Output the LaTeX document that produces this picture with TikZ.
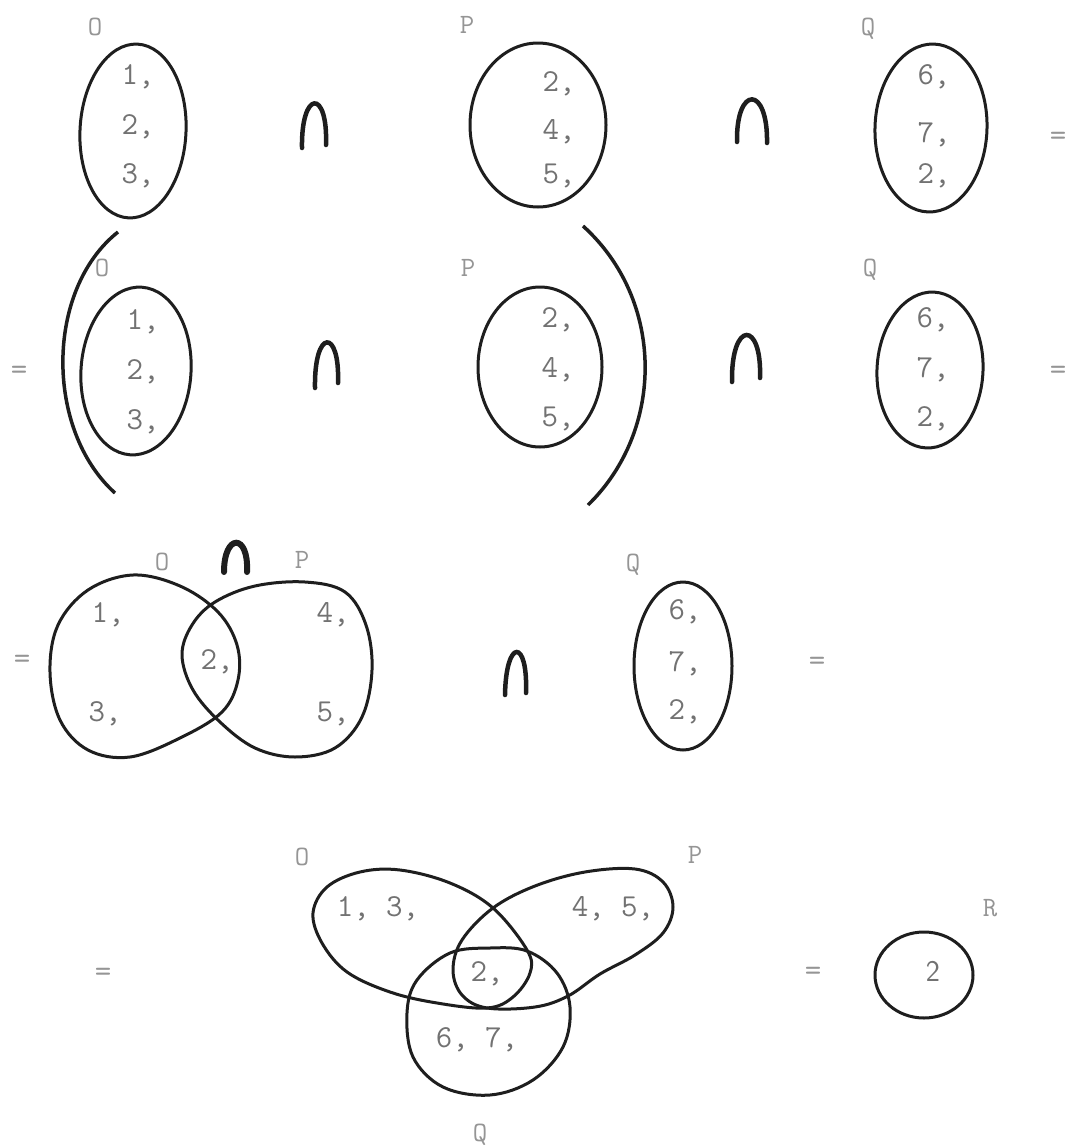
\documentclass[tikz,border=0pt]{standalone}
\usepackage{fontspec}
\definecolor{ink}{HTML}{1E1E1E}
\definecolor{typed}{HTML}{727272}
\definecolor{lab}{HTML}{959595}
\tikzset{
  curve/.style={draw=ink, line width=3pt, line join=round},
  capsym/.style={draw=ink, line width=4.5pt, line cap=round},
  num/.style={text=typed, font=\fontsize{32}{36}\selectfont\ttfamily, inner sep=0pt, text height=19.6pt, text depth=0pt, anchor=center},
  setlab/.style={text=lab, font=\fontsize{28}{32}\selectfont\ttfamily, inner sep=0pt, text height=17pt, text depth=0pt, anchor=center},
  eqsign/.style={text=lab, font=\fontsize{32}{36}\selectfont\ttfamily, inner sep=0pt, anchor=base},
}
\begin{document}
\begin{tikzpicture}[x=1pt,y=-1pt]
\useasboundingbox (0,0) rectangle (1089,1146);
% ---------------- Row 1 ----------------
\node[setlab] (lO1) at (95,27) {O};
\node[setlab] (lP1) at (467,25) {P};
\node[setlab] (lQ1) at (868,27) {Q};
\draw[curve, rotate around={-3:(133,131)}] (133,131) ellipse [x radius=53, y radius=87];
\draw[curve] (538,125) ellipse [x radius=68, y radius=82];
\draw[curve, rotate around={-2:(931,128)}] (931,128) ellipse [x radius=56, y radius=84];
\node[num] (a1) at (138,75) {1,};
\node[num] (a2) at (138,125) {2,};
\node[num] (a3) at (138,174) {3,};
\node[num] (b1) at (559,82) {2,};
\node[num] (b2) at (559,130) {4,};
\node[num] (b3) at (559,174) {5,};
\node[num] (c1) at (934,75) {6,};
\node[num] (c2) at (934,133) {7,};
\node[num] (c3) at (934,174) {2,};
\draw[capsym] (302,148) .. controls (301,90) and (328,88) .. (326,145);
\draw[capsym] (737,142) .. controls (736,85) and (768,85) .. (767,143);
\node[eqsign] (e1) at (1058,145) {=};
% ---------------- Row 2 ----------------
\node[eqsign] (e2) at (19,379) {=};
\draw[curve, line width=3.5pt] (118,232) .. controls (45,290) and (45,430) .. (115,493);
\draw[curve, line width=3.5pt] (583,226) .. controls (665,300) and (665,430) .. (588,505);
\node[setlab] (lO2) at (102,268) {O};
\node[setlab] (lP2) at (468,268) {P};
\node[setlab] (lQ2) at (870,268) {Q};
\draw[curve, rotate around={-4:(136,371)}] (136,371) ellipse [x radius=55, y radius=84];
\draw[curve] (540,367) ellipse [x radius=62, y radius=80];
\draw[curve, rotate around={-3:(930,370)}] (930,370) ellipse [x radius=53, y radius=78];
\node[num] (d1) at (143,320) {1,};
\node[num] (d2) at (143,370) {2,};
\node[num] (d3) at (143,420) {3,};
\node[num] (f1) at (558,318) {2,};
\node[num] (f2) at (558,368) {4,};
\node[num] (f3) at (558,417) {5,};
\node[num] (g1) at (933,318) {6,};
\node[num] (g2) at (933,368) {7,};
\node[num] (g3) at (933,417) {2,};
\draw[capsym] (315,388) .. controls (314,328) and (340,328) .. (338,383);
\draw[capsym] (732,382) .. controls (731,320) and (762,320) .. (760,378);
\node[eqsign] (e3) at (1058,379) {=};
% ---------------- Row 3 ----------------
\node[eqsign] (e4) at (22,668) {=};
\node[setlab] (lO3) at (162,562) {O};
\node[setlab] (lP3) at (302,560) {P};
\draw[capsym, line width=6pt] (224,572) .. controls (224,533) and (249,533) .. (247,572);
\draw[curve] plot[smooth cycle, tension=0.6] coordinates {(133,575) (180,586) (218,612) (237,645) (238,680) (222,712) (180,738) (130,757) (88,750) (60,720) (50,672) (58,625) (88,590)};
\draw[curve] plot[smooth cycle, tension=0.6] coordinates {(215,602) (255,586) (305,582) (345,592) (366,625) (372,670) (362,717) (335,748) (295,757) (255,748) (220,722) (193,690) (182,655) (192,625)};
\node[num] (h1) at (108,613) {1,};
\node[num] (h2) at (217,660) {2,};
\node[num] (h3) at (105,712) {3,};
\node[num] (h4) at (333,613) {4,};
\node[num] (h5) at (333,712) {5,};
\draw[capsym] (505,695) .. controls (506,638) and (528,638) .. (526,693);
\node[setlab] (lQ3) at (633,563) {Q};
\draw[curve] (683,666) ellipse [x radius=49, y radius=84];
\node[num] (k1) at (685,610) {6,};
\node[num] (k2) at (685,662) {7,};
\node[num] (k3) at (685,710) {2,};
\node[eqsign] (e5) at (817,670) {=};
% ---------------- Row 4 ----------------
\node[eqsign] (e6) at (103,981) {=};
\node[setlab] (lO4) at (302,857) {O};
\node[setlab] (lP4) at (695,855) {P};
\node[setlab] (lQ4) at (480,1133) {Q};
\draw[curve] plot[smooth cycle, tension=0.6] coordinates {(313,913) (327,887) (360,872) (400,870) (450,883) (493,908) (527,950) (530,973) (513,997) (487,1008) (437,1003) (390,992) (347,972) (322,943)};
\draw[curve] plot[smooth cycle, tension=0.6] coordinates {(487,1008) (462,995) (453,970) (462,940) (493,908) (535,886) (585,872) (635,869) (663,882) (673,907) (663,933) (635,955) (600,974) (568,996) (535,1007)};
\draw[curve] plot[smooth cycle, tension=0.6] coordinates {(407,1013) (417,980) (450,953) (490,948) (527,951) (557,973) (570,1007) (563,1047) (533,1080) (490,1095) (443,1087) (413,1057)};
\node[num] (m1) at (378,907) {1, 3,};
\node[num] (m2) at (613,907) {4, 5,};
\node[num] (m3) at (487,972) {2,};
\node[num] (m4) at (477,1038) {6, 7,};
\node[eqsign] (e7) at (813,980) {=};
\node[setlab] (lR) at (990,908) {R};
\draw[curve] (924,975) ellipse [x radius=49, y radius=43];
\node[num, font=\fontsize{30}{34}\selectfont\sffamily] (r1) at (933,972) {2};
\end{tikzpicture}
\end{document}
